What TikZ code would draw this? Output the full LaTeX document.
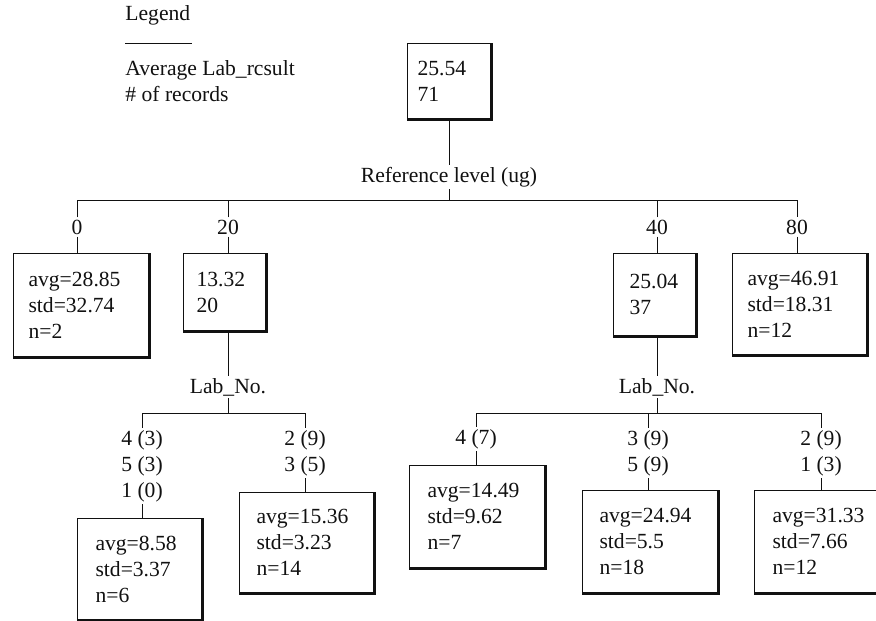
\documentclass[tikz,border=0pt]{standalone}
\usepackage{fontspec}
\setmainfont{Liberation Serif}
\usepackage{tikz}
\usetikzlibrary{positioning,calc}
\definecolor{ink}{HTML}{111111}
\newcommand{\treefont}{\fontsize{21.6}{26}\selectfont}

\tikzset{
  lbl/.style={inner sep=2pt,align=center,text=ink},
  tbox/.style args={#1/#2/#3}{draw=ink,line width=1.1pt,align=left,anchor=north west,
    inner ysep=0pt,inner xsep=#3,text width=#1,minimum height=#2,text=ink},
}

\begin{document}
\begin{tikzpicture}[x=1pt,y=-1pt,font=\treefont,line width=0.9pt]
  \useasboundingbox (0,0) rectangle (876,621);
  % legend
  \node[lbl,anchor=west,inner sep=0pt] (leg) at (125,15) {Legend};
  \draw[ink] (125,43) -- (192,43);
  \node[lbl,anchor=west,inner sep=0pt,align=left] (legtxt) at (125,81) {Average Lab\_rcsult\\\# of records};
  % boxes
  \node[tbox=63pt/75pt/10pt] (root) at (407,43) {25.54\\71};
  \node[tbox=105pt/103pt/15pt] (lv0) at (13,253) {avg=28.85\\std=32.74\\n=2};
  \node[tbox=56pt/77pt/13pt] (lv20) at (183,253) {13.32\\20};
  \node[tbox=50pt/82pt/16pt] (lv40) at (613,253) {25.04\\37};
  \node[tbox=104pt/101pt/15pt] (lv80) at (732,253) {avg=46.91\\std=18.31\\n=12};
  \node[tbox=88pt/101pt/18pt] (l1) at (77,518) {avg=8.58\\std=3.37\\n=6};
  \node[tbox=100pt/100pt/17pt] (l2) at (239,492) {avg=15.36\\std=3.23\\n=14};
  \node[tbox=99pt/102pt/18pt] (r1) at (409,465) {avg=14.49\\std=9.62\\n=7};
  \node[tbox=101pt/102pt/17pt] (r2) at (582,490) {avg=24.94\\std=5.5\\n=18};
  \node[tbox=86pt/102pt/18pt] (r3) at (754,490) {avg=31.33\\std=7.66\\n=12};
  \foreach \n in {root,lv0,lv20,lv40,lv80,l1,l2,r1,r2,r3}
    \draw[ink,line width=2.6pt] ([xshift=0.8pt]\n.north east) -- ([xshift=0.8pt,yshift=-0.8pt]\n.south east) -- ([yshift=-0.8pt]\n.south west);
  % split labels
  \node[lbl] (ref) at (449,177) {Reference level (ug)};
  \node[lbl] (e0) at (77,227) {0};
  \node[lbl] (e20) at (228,227) {20};
  \node[lbl] (e40) at (657,227) {40};
  \node[lbl] (e80) at (797,227) {80};
  \node[lbl] (labL) at (228,387) {Lab\_No.};
  \node[lbl] (labR) at (657,387) {Lab\_No.};
  \node[lbl] (sL1) at (142,466) {4 (3)\\5 (3)\\1 (0)};
  \node[lbl] (sL2) at (305,453) {2 (9)\\3 (5)};
  \node[lbl] (sR1) at (476,439) {4 (7)};
  \node[lbl] (sR2) at (648,453) {3 (9)\\5 (9)};
  \node[lbl] (sR3) at (821,453) {2 (9)\\1 (3)};
  \coordinate (barT) at (0,200);
  \coordinate (barS) at (0,413);
  % connectors
  \draw[ink] (root.south -| ref) -- (ref.north);
  \draw[ink] (ref.south) -- (ref |- barT);
  \draw[ink] (e0.north) -- (e0 |- barT) -- (e80 |- barT) -- (e80.north);
  \foreach \e in {e20,e40} \draw[ink] (\e.north) -- (\e |- barT);
  \foreach \e/\b in {e0/lv0,e20/lv20,e40/lv40,e80/lv80} \draw[ink] (\e.south) -- (\e.south |- \b.north);
  \draw[ink] (labL |- lv20.south) -- (labL.north);
  \draw[ink] (labR |- lv40.south) -- (labR.north);
  \draw[ink] (labL.south) -- (labL |- barS);
  \draw[ink] (labR.south) -- (labR |- barS);
  \draw[ink] (sL1.north) -- (sL1 |- barS) -- (sL2 |- barS) -- (sL2.north);
  \draw[ink] (sR1.north) -- (sR1 |- barS) -- (sR3 |- barS) -- (sR3.north);
  \draw[ink] (sR2.north) -- (sR2 |- barS);
  \foreach \s/\b in {sL1/l1,sL2/l2,sR1/r1,sR2/r2,sR3/r3} \draw[ink] (\s.south) -- (\s.south |- \b.north);
\end{tikzpicture}
\end{document}
